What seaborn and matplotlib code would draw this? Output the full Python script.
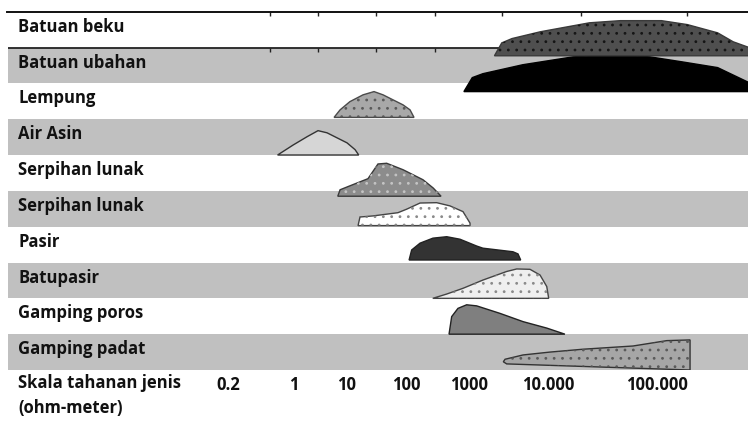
import numpy as np
import matplotlib
matplotlib.use('Agg')
import matplotlib.pyplot as plt
import seaborn as sns

# Baris (atas ke bawah)
kategori = ['Batuan beku', 'Batuan ubahan', 'Lempung', 'Air Asin', 'Serpihan lunak',
            'Serpihan lunak', 'Pasir', 'Batupasir', 'Gamping poros', 'Gamping padat']

# Skala tahanan jenis (ohm-meter)
skala_nilai = [0.2, 1, 10, 100, 1000, 10000, 100000]
skala_label = ['0.2', '1', '10', '100', '1000', '10.000', '100.000']
tick_atas = [0.56, 2.8, 31, 290, 2600, 20000, 190000]

# Garis bentuk tiap rentang: x = ohm-meter, h = tinggi dalam baris (1 = satu baris penuh)
beku_x = [2100, 2600, 3500, 8000, 24000, 46000, 110000, 190000, 360000, 500000, 700000, 700000]
beku_h = [-0.23, 0.13, 0.25, 0.44, 0.69, 0.75, 0.75, 0.64, 0.41, 0.16, 0.0, -0.23]

ubahan_x = [830, 1100, 1500, 4800, 17000, 39000, 86000, 170000, 360000, 700000, 700000]
ubahan_h = [-0.23, 0.16, 0.27, 0.52, 0.74, 0.80, 0.74, 0.60, 0.44, 0.02, -0.23]

lempung_x = [5.7, 7.4, 11.2, 18.7, 28.7, 40.8, 89, 116, 134]
lempung_h = [0.05, 0.26, 0.49, 0.68, 0.77, 0.68, 0.40, 0.26, 0.05]

airasin_x = [0.67, 0.98, 1.76, 2.84, 4.2, 10, 13.7, 15.8]
airasin_h = [0.0, 0.28, 0.51, 0.68, 0.62, 0.34, 0.15, 0.0]

serpih1_x = [6.7, 7.4, 11.2, 22.7, 33.5, 47, 89, 186, 270, 360]
serpih1_h = [-0.15, 0.03, 0.14, 0.34, 0.75, 0.77, 0.59, 0.31, 0.08, -0.15]

serpih2_x = [15.4, 16.6, 27.6, 73, 103, 167, 307, 499, 803, 1030, 1030]
serpih2_h = [0.03, 0.27, 0.30, 0.39, 0.49, 0.66, 0.67, 0.58, 0.42, 0.10, 0.03]

pasir_x = [112, 123, 167, 268, 443, 719, 1250, 1500, 3600, 4170, 4510]
pasir_h = [0.07, 0.35, 0.54, 0.68, 0.72, 0.65, 0.46, 0.40, 0.30, 0.24, 0.07]

batupasir_x = [266, 443, 803, 1500, 3000, 4020, 5920, 7930, 9640, 10150]
batupasir_h = [0.0, 0.12, 0.28, 0.51, 0.75, 0.82, 0.81, 0.65, 0.33, 0.0]

poros_x = [482, 531, 668, 918, 1250, 2470, 4830, 9640, 14300]
poros_h = [0.0, 0.49, 0.72, 0.82, 0.79, 0.58, 0.35, 0.17, 0.0]

padat_x = [2720, 2860, 4830, 10400, 20900, 60300, 123000, 201000, 201000, 3000]
padat_h = [0.23, 0.30, 0.42, 0.50, 0.58, 0.67, 0.82, 0.84, 0.0, 0.17]

bentuk_x = [beku_x, ubahan_x, lempung_x, airasin_x, serpih1_x,
            serpih2_x, pasir_x, batupasir_x, poros_x, padat_x]
bentuk_h = [beku_h, ubahan_h, lempung_h, airasin_h, serpih1_h,
            serpih2_h, pasir_h, batupasir_h, poros_h, padat_h]

# warna isi, garis tepi, warna titik (None = tanpa titik)
gaya = [('#4f4f4f', '#3a3a3a', '#151515'),
        ('#000000', '#000000', None),
        ('#a8a8a8', '#4a4a4a', '#5a5a5a'),
        ('#d6d6d6', '#333333', None),
        ('#8c8c8c', '#3a3a3a', '#c4c4c4'),
        ('#ffffff', '#444444', '#8a8a8a'),
        ('#333333', '#222222', None),
        ('#efefef', '#444444', '#8a8a8a'),
        ('#7f7f7f', '#222222', None),
        ('#a6a6a6', '#333333', '#5a5a5a')]

sns.set_theme(style='white')
plt.rcParams['font.family'] = ['Open Sans', 'DejaVu Sans']
plt.rcParams['hatch.linewidth'] = 0.8

# skala log tidak rata seperti pada gambar asli
L_ank = [-4, np.log10(0.2), 0, 1, 2, 3, 4, 5, 7]
P_ank = [-83.6, 228, 294, 347, 406, 469, 548, 657, 875]


def maju(v):
    v = np.maximum(np.asarray(v, dtype=float), 1e-9)
    return np.interp(np.log10(v), L_ank, P_ank)


def balik(p):
    return 10 ** np.interp(p, P_ank, L_ank)


fig = plt.figure(figsize=(7.48, 4.25), dpi=100)
ax = fig.add_axes([7.5 / 748, 1 - 370 / 425, 1 - 7.5 / 748, (370 - 11.7) / 425])
ax.set_xscale('function', functions=(maju, balik))
ax.set_xlim(balik(7.5), balik(748))
ax.set_ylim(0, len(kategori))

n = len(kategori)
for i, nama in enumerate(kategori):
    dasar = n - 1 - i
    if i % 2 == 1:
        ax.axhspan(dasar, dasar + 1, color='#c0c0c0', lw=0, zorder=0)
    ax.text(0.0142, dasar + 0.58, nama, transform=ax.get_yaxis_transform(),
            fontsize=12, fontweight='bold', va='center', ha='left', color='#111111')

# garis di bawah Batuan beku dengan tanda kecil
ax.axhline(n - 1, color='#222222', lw=1.3, zorder=1)
ax.plot(tick_atas, [n - 1] * len(tick_atas), ls='none', marker=3, ms=3,
        color='#222222', mew=1, zorder=1)

urutan = [1, 0, 2, 3, 4, 5, 6, 7, 8, 9]
for i in urutan:
    dasar = n - 1 - i
    y = [dasar + h for h in bentuk_h[i]]
    isi, tepi, titik = gaya[i]
    ax.fill(bentuk_x[i], y, facecolor=isi, edgecolor=tepi, lw=1.0, zorder=3)
    if titik is not None:
        ax.fill(bentuk_x[i], y, facecolor='none', edgecolor=titik, hatch='..', lw=0, zorder=3)

# sumbu: hanya garis atas
for s in ['left', 'right', 'bottom']:
    ax.spines[s].set_visible(False)
ax.spines['top'].set_color('#111111')
ax.spines['top'].set_linewidth(1.4)
ax.set_yticks([])
ax.set_xticks(skala_nilai, skala_label)
ax.xaxis.set_minor_locator(matplotlib.ticker.FixedLocator(tick_atas))
ax.xaxis.set_minor_formatter(matplotlib.ticker.NullFormatter())
ax.tick_params(axis='x', which='major', bottom=True, top=False, length=0, pad=4,
               labelsize=12, labelcolor='#111111')
ax.tick_params(axis='x', which='minor', bottom=False, top=True, direction='in',
               length=3, width=1, color='#222222')
for lb in ax.get_xticklabels():
    lb.set_fontweight('bold')

fig.text(18 / 748, 1 - 374 / 425, 'Skala tahanan jenis\n(ohm-meter)', fontsize=12,
         fontweight='bold', va='top', ha='left', color='#111111', linespacing=1.5)

fig.savefig('out.png', dpi=100)
